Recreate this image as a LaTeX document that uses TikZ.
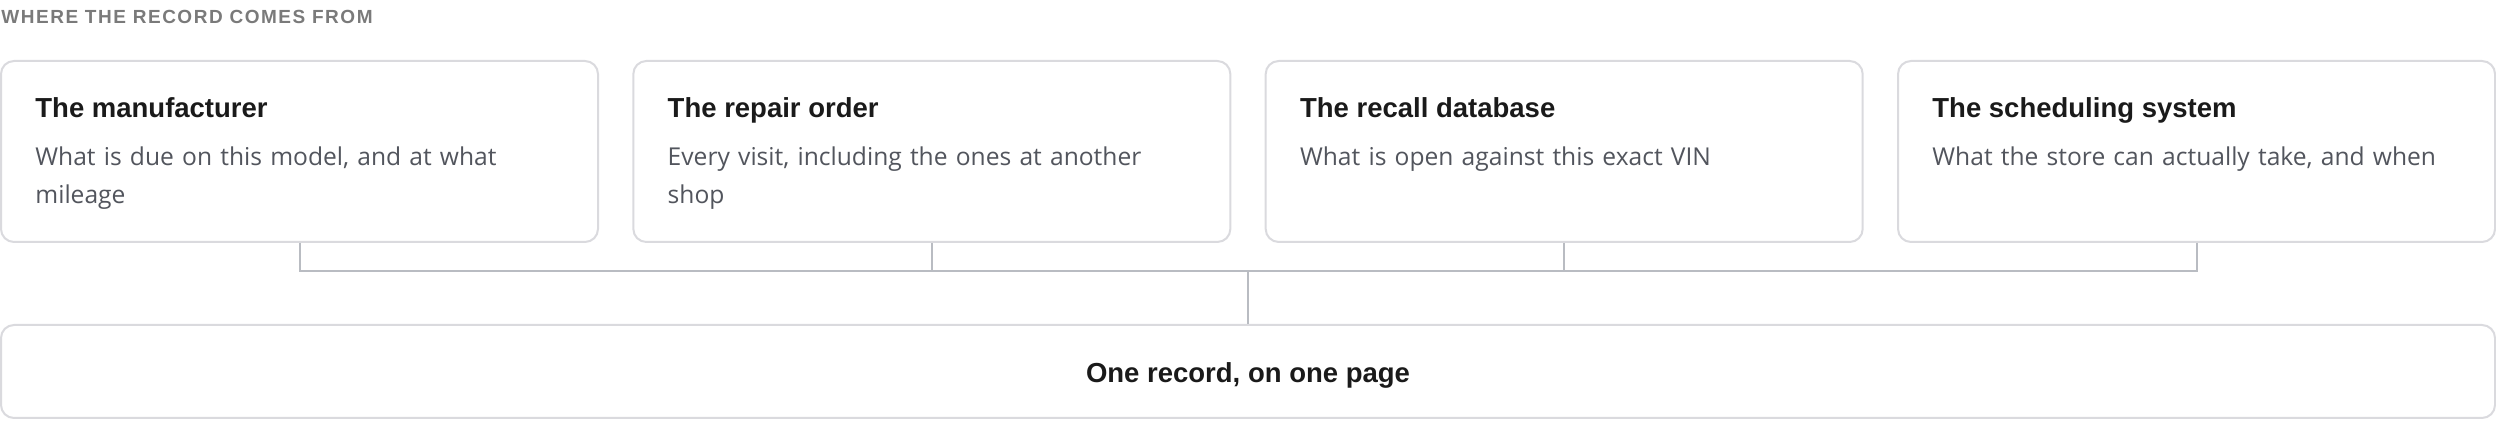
\documentclass[tikz,border=0pt]{standalone}
\usepackage{fontspec}
\setmainfont{Open Sans}
\newfontfamily\headfont[LetterSpace=8]{Liberation Sans}
\newfontfamily\boldfont{Liberation Sans}
\usepackage{tikz}
\usetikzlibrary{positioning}
\definecolor{boxline}{HTML}{DADADE}
\definecolor{wire}{HTML}{B9BCC2}
\definecolor{ink}{HTML}{1A1A1A}
\definecolor{muted}{HTML}{52555D}
\definecolor{headgray}{HTML}{7A7A7A}

\begin{document}
\begin{tikzpicture}[x=0.5pt, y=-0.5pt,
    srcbox/.style={draw=boxline, line width=1pt, rounded corners=6.5pt, fill=white,
      inner sep=0pt, minimum width=298.5pt, minimum height=90.5pt},
    srctitle/.style={anchor=base west, inner sep=0pt, text=ink,
      font=\boldfont\bfseries\fontsize{13.75}{16}\selectfont},
    srcbody/.style={anchor=base west, inner sep=0pt, align=left, text width=264pt, text=muted,
      font=\fontsize{12.3}{19}\selectfont},
    recordbox/.style={draw=boxline, line width=1pt, rounded corners=6.5pt, fill=white,
      minimum width=1247pt, minimum height=46.5pt, text height=11.2pt, text depth=0pt, text=ink,
      font=\boldfont\bfseries\fontsize{13.75}{16}\selectfont},
    wirestyle/.style={draw=wire, line width=1pt}]
  \useasboundingbox (0,0) rectangle (2496,448);

  \node[anchor=base west, inner sep=0pt, text=headgray,
    font=\headfont\bfseries\fontsize{9.5}{11}\selectfont] (heading) at (1,24) {WHERE THE RECORD COMES FROM};

  % the four sources
  \node[srcbox, anchor=north west] (maker) at (0,60) {};
  \node[srcbox, right=16.67pt of maker] (repair) {};
  \node[srcbox, right=16.67pt of repair] (recall) {};
  \node[srcbox, right=16.67pt of recall] (sched) {};

  \node[srctitle] (makertitle) at ([shift={(35,58)}]maker.north west) {The manufacturer};
  \node[srcbody] (makerbody) at ([shift={(35,106)}]maker.north west) {What is due on this model, and at what\\mileage};
  \node[srctitle] (repairtitle) at ([shift={(35,58)}]repair.north west) {The repair order};
  \node[srcbody] (repairbody) at ([shift={(35,106)}]repair.north west) {Every visit, including the ones at another\\shop};
  \node[srctitle] (recalltitle) at ([shift={(35,58)}]recall.north west) {The recall database};
  \node[srcbody] (recallbody) at ([shift={(35,106)}]recall.north west) {What is open against this exact VIN};
  \node[srctitle] (schedtitle) at ([shift={(35,58)}]sched.north west) {The scheduling system};
  \node[srcbody] (schedbody) at ([shift={(35,106)}]sched.north west) {What the store can actually take, and when};

  % where they meet
  \node[recordbox, anchor=north west] (record) at (0,324) {One record, on one page};
  \coordinate (hub) at (1248,271);

  \path[wirestyle]
  (maker.south) |- (hub)
  (sched.south) |- (hub)
  (repair.south) -- (repair.south |- hub)
  (recall.south) -- (recall.south |- hub)
  (hub) -- (record.north)
  ;
\end{tikzpicture}
\end{document}
